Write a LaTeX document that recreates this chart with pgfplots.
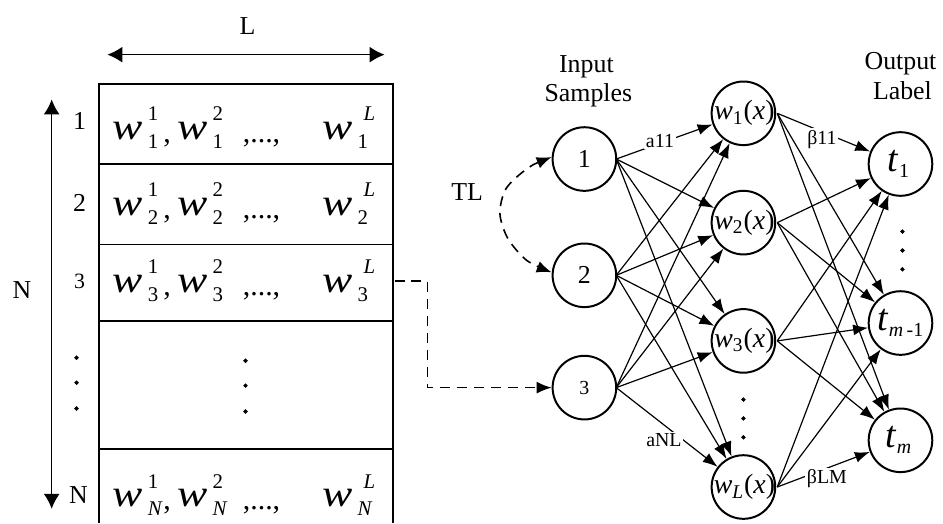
\documentclass[border=0pt]{standalone}
\usepackage{pgfplots}
\pgfplotsset{compat=1.18}
\usetikzlibrary{arrows.meta}
\usepackage{fontspec}
\setmainfont{Liberation Serif}

\newcommand\fs[1]{\fontsize{#1}{#1}\selectfont}
% one table entry: big italic w with sup and sub
\newcommand\wcell[2]{\scalebox{1.2}[1]{\fs{19}\itshape w}\hspace{2.5pt}%
  \makebox[0pt][l]{\raisebox{9.5pt}{\fs{10.5}#1}}\raisebox{-4.5pt}{\fs{10.5}#2}}
\newcommand\wrow[2]{%
  \node[anchor=base west, inner sep=0] at (axis cs:113,#1) {\wcell{1}{#2}};
  \node[anchor=base west, inner sep=0] at (axis cs:164,#1+3) {\fs{15},};
  \node[anchor=base west, inner sep=0] at (axis cs:178,#1) {\wcell{2}{#2}};
  \node[anchor=base west, inner sep=0] at (axis cs:244,#1+3) {\fs{15},...,};
  \node[anchor=base west, inner sep=0] at (axis cs:324,#1) {\wcell{\hspace{3pt}\textit{L}}{#2}};
}

\pgfplotsset{
  edge/.style={black, line width=0.6pt, mark=none,
    -{Latex[length=7.5pt,width=5.5pt]}, shorten >=16.5pt},
  ring/.style={only marks, mark=*, mark size=16pt,
    mark options={draw=black, fill=white, line width=1pt}},
  dot/.style={only marks, mark=*, mark size=0.9pt, black},
}

\begin{document}
\begin{tikzpicture}
\begin{axis}[
  scale only axis, width=471.5pt, height=263pt,
  xmin=0, xmax=943, ymin=0, ymax=526, y dir=reverse,
  hide axis, clip=false, set layers,
]
\addplot[draw=none, mark=none] coordinates {(0,0) (943,526)};

% ---- left: the table
\addplot[line width=1pt, mark=none] coordinates {(395,526) (395,85) (100,85) (100,526)};
\addplot[line width=1pt, mark=none] coordinates {(100,165) (395,165)};
\addplot[line width=1pt, mark=none] coordinates {(100,246) (395,246)};
\addplot[line width=1pt, mark=none] coordinates {(100,323) (395,323)};
\addplot[line width=1pt, mark=none] coordinates {(100,452) (395,452)};

\addplot[line width=0.8pt, mark=none, {Latex[length=7.5pt,width=8pt]}-{Latex[length=7.5pt,width=8pt]}]
  coordinates {(108,55) (387,55)};
\addplot[line width=0.8pt, mark=none, {Latex[length=7.5pt,width=8pt]}-{Latex[length=7.5pt,width=8pt]}]
  coordinates {(52,100) (52,512)};

\addplot[dot] coordinates {(77,360) (77,385) (77,411) (247,363) (247,388) (247,414)};

\node[anchor=base] at (axis cs:249,35) {\fs{13}L};
\node[anchor=base] at (axis cs:22,300) {\fs{13}N};
\node[anchor=base] at (axis cs:80,130) {\fs{13}1};
\node[anchor=base] at (axis cs:80,213) {\fs{13}2};
\node[anchor=base] at (axis cs:80,290) {\fs{11}3};
\node[anchor=base] at (axis cs:79,507) {\fs{13}N};

\wrow{140}{1}
\wrow{217}{2}
\wrow{294}{3}
\wrow{510}{\textit{N}}

% ---- dashed links
\addplot[line width=0.8pt, mark=none, dash pattern=on 5pt off 3.5pt,
  -{Latex[length=7.5pt,width=6pt]}]
  coordinates {(397,283) (430,283) (430,390) (555,390)};
\addplot[smooth, line width=0.8pt, mark=none, dash pattern=on 5pt off 3.5pt,
  {Latex[length=7.5pt,width=6pt]}-{Latex[length=7.5pt,width=6pt]}]
  coordinates {(555,158) (530,170) (509,190) (503,215) (511,240) (530,262) (555,274)};
\node[anchor=base] at (axis cs:470,202) {\fs{13}TL};

% ---- input -> hidden
\addplot[edge] coordinates {(620,160) (748,114)};
\addplot[edge] coordinates {(620,160) (748,224)};
\addplot[edge] coordinates {(620,160) (748,343)};
\addplot[edge] coordinates {(620,160) (748,490)};
\addplot[edge] coordinates {(620,277) (748,114)};
\addplot[edge] coordinates {(620,277) (748,224)};
\addplot[edge] coordinates {(620,277) (748,343)};
\addplot[edge] coordinates {(620,277) (748,490)};
\addplot[edge] coordinates {(620,390) (748,114)};
\addplot[edge] coordinates {(620,390) (748,224)};
\addplot[edge] coordinates {(620,390) (748,343)};
\addplot[edge] coordinates {(620,390) (748,490)};

% ---- hidden -> output
\addplot[edge] coordinates {(782,114) (906,165)};
\addplot[edge] coordinates {(782,114) (906,325)};
\addplot[edge] coordinates {(782,114) (906,443)};
\addplot[edge] coordinates {(782,224) (906,165)};
\addplot[edge] coordinates {(782,224) (906,325)};
\addplot[edge] coordinates {(782,224) (906,443)};
\addplot[edge] coordinates {(782,343) (906,165)};
\addplot[edge] coordinates {(782,343) (906,325)};
\addplot[edge] coordinates {(782,343) (906,443)};
\addplot[edge] coordinates {(782,490) (906,165)};
\addplot[edge] coordinates {(782,490) (906,325)};
\addplot[edge] coordinates {(782,490) (906,443)};

% ---- neurons
\addplot[ring] coordinates {(588,160) (588,277) (588,390)};
\addplot[ring] coordinates {(748,114) (748,224) (748,343) (748,490)};
\addplot[ring] coordinates {(906,165) (906,325) (906,443)};
\addplot[dot] coordinates {(748,402) (748,421) (748,440) (908,233) (908,252) (908,271)};

% ---- weight labels
\node[fill=white, inner sep=0.8pt] at (axis cs:664,142) {\fs{10}a11};
\node[fill=white, inner sep=0.8pt] at (axis cs:827,140) {\fs{10}β11};
\node[fill=white, inner sep=0.8pt] at (axis cs:668,443) {\fs{10}aNL};
\node[fill=white, inner sep=0.8pt] at (axis cs:832,482) {\fs{10}βLM};

% ---- column titles
\node[anchor=base] at (axis cs:590,73) {\fs{13}Input};
\node[anchor=base] at (axis cs:592,102) {\fs{13}Samples};
\node[anchor=base] at (axis cs:906,70) {\fs{13}Output};
\node[anchor=base] at (axis cs:908,100) {\fs{13}Label};

% ---- neuron labels, above the rings
\begin{pgfonlayer}{axis foreground}
\node at (axis cs:588,160) {\fs{13}1};
\node at (axis cs:588,277) {\fs{13}2};
\node at (axis cs:588,390) {\fs{10}3};
\node at (axis cs:749,114) {\fs{14}\textit{w}\textsubscript{1}(\textit{x})};
\node at (axis cs:749,224) {\fs{14}\textit{w}\textsubscript{2}(\textit{x})};
\node at (axis cs:749,343) {\fs{14}\textit{w}\textsubscript{3}(\textit{x})};
\node at (axis cs:749,490) {\fs{14}\textit{w}\textsubscript{\textit{L}}(\textit{x})};
\node at (axis cs:904,165) {\fs{19}\textit{t}\raisebox{-3pt}{\fs{10}1}};
\node at (axis cs:906,325) {\fs{19}\textit{t}\raisebox{-3pt}{\fs{10}\textit{m}\,-1}};
\node at (axis cs:904,443) {\fs{19}\textit{t}\raisebox{-3pt}{\fs{10}\textit{m}}};
\end{pgfonlayer}
\end{axis}
\end{tikzpicture}
\end{document}
